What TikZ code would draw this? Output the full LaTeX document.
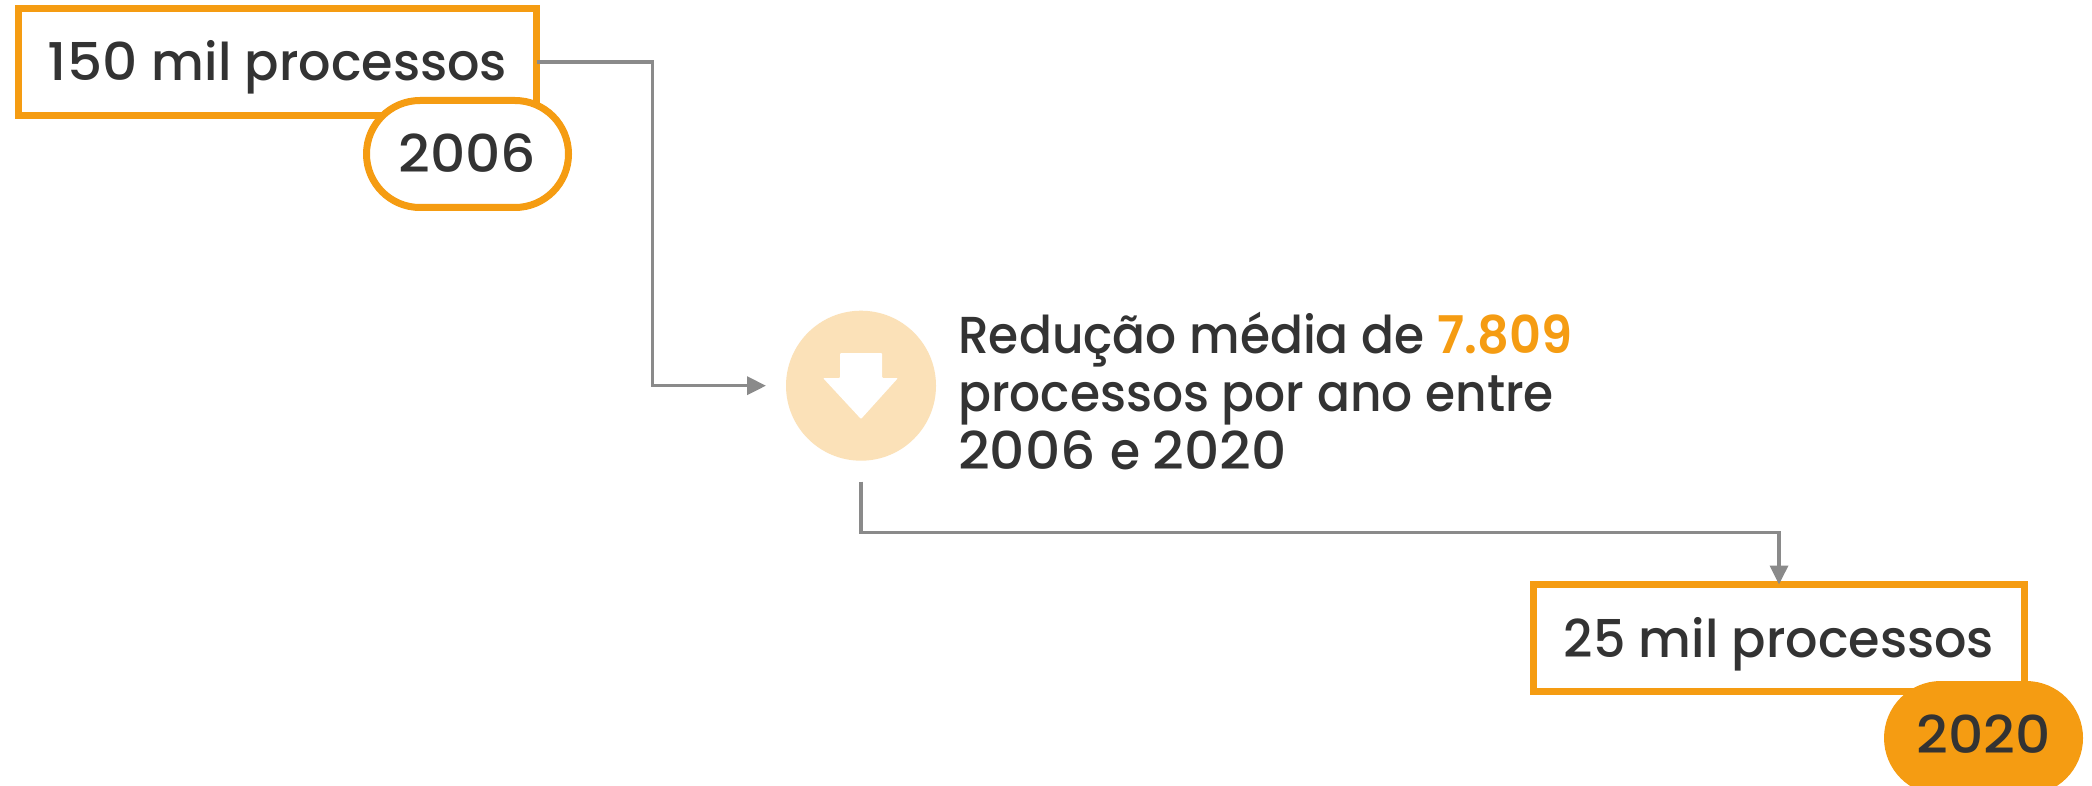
\documentclass[tikz,border=0pt]{standalone}
\usepackage{fontspec}
\setmainfont{Poppins Medium}
\newfontfamily\wordfont[FakeStretch=0.978]{Poppins Medium}
\newfontfamily\blockfont[FakeStretch=0.936]{Poppins Medium}
\newfontfamily\numfont[FakeStretch=1.058]{Poppins Medium}
\newfontfamily\strongfont[FakeStretch=0.952]{Poppins SemiBold}
\usetikzlibrary{shapes.misc,arrows.meta}
\definecolor{accent}{HTML}{F59C12}
\definecolor{ink}{HTML}{333333}
\definecolor{wire}{HTML}{8A8A8A}
\definecolor{pale}{HTML}{FBE1B8}
\tikzset{
  labelfont/.style={font=\fontsize{52}{58}\selectfont,text=ink},
  valuebox/.style={draw=accent,line width=7pt,fill=white,rectangle,minimum height=107pt,inner sep=0pt,outer sep=0pt,labelfont,text height=38pt,text depth=0pt},
  yearpill/.style={draw=accent,line width=7pt,rounded rectangle,minimum width=202pt,minimum height=107pt,inner sep=0pt,outer sep=0pt,labelfont,text height=38pt,text depth=0pt},
  wireline/.style={draw=wire,line width=3.5pt,-{Triangle[length=19pt,width=18pt]}},
}
\begin{document}
\begin{tikzpicture}[x=1pt,y=-1pt]
\useasboundingbox (0,0) rectangle (2092,786);
\clip (0,0) rectangle (2092,786);
\fill[white] (0,0) rectangle (2092,786);
\node[valuebox,minimum width=518pt] (box1) at (277.5,62) {\numfont 150 \wordfont mil processos};
\node[yearpill,fill=white] (pill1) at (467.5,154) {\numfont 2006};
\node[valuebox,minimum width=491pt] (box2) at (1779,638) {\wordfont 25 mil processos};
\node[yearpill,fill=accent,minimum width=192pt,text height=30pt] (pill2) at (1983.5,738) {\numfont 2020};
\node[circle,fill=pale,minimum size=150pt,inner sep=0pt,outer sep=0pt] (circ) at (861,385.7) {};
\fill[white,rounded corners=1pt] (840,353) -- (882,353) -- (882,378) -- (898,378) -- (861,419) -- (823,378) -- (840,378) -- cycle;
\node[labelfont,anchor=base west,align=left,inner sep=0pt] (txt) at (958,469) {\blockfont Redução média de {\strongfont\color{accent}7.809}\\\blockfont processos por ano entre\\\numfont 2006 \blockfont e \numfont 2020};
\coordinate (elbowA) at (652.5,385.7);
\coordinate (elbowB) at (1779,532.7);
\draw[wireline,shorten >=20pt] (box1.east) -| (elbowA) -- (circ.west);
\draw[wireline,shorten <=21pt] (circ.south) |- (elbowB) -- (box2.north);
\end{tikzpicture}
\end{document}
